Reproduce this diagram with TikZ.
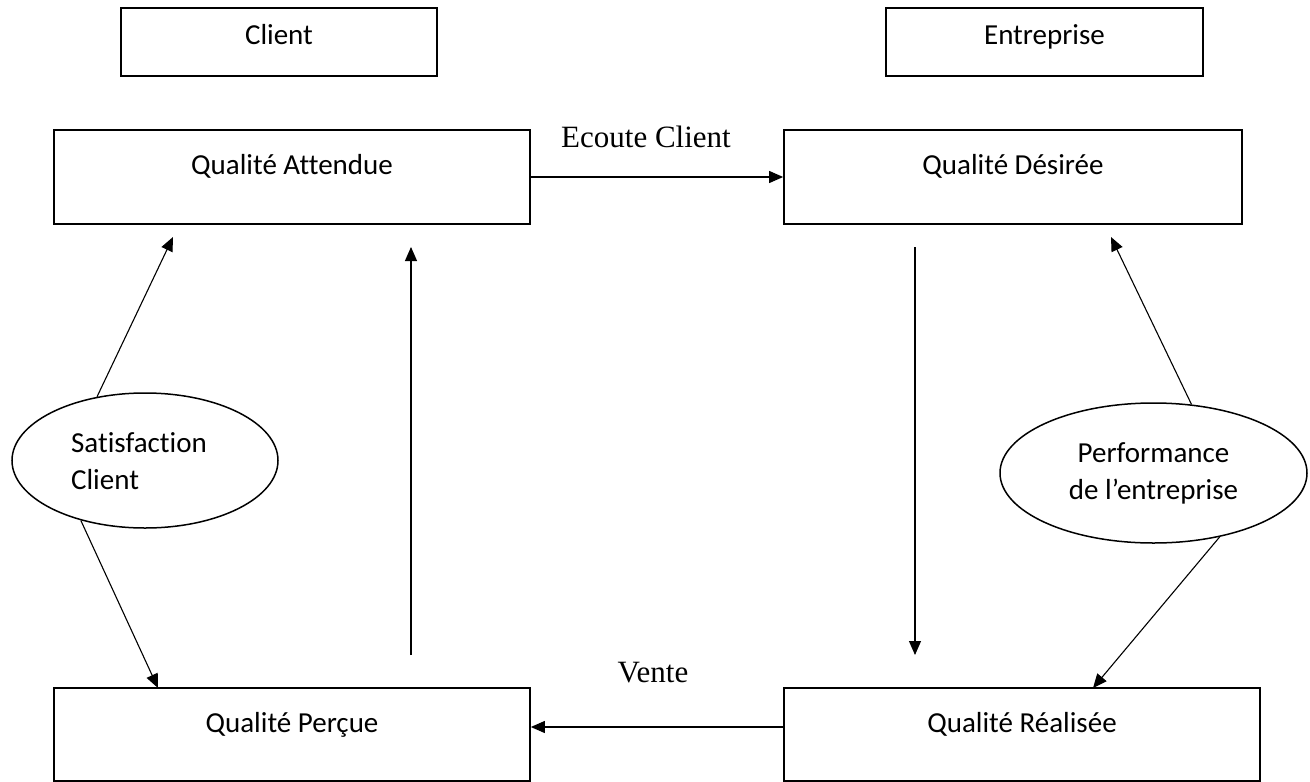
\documentclass[tikz,border=0pt]{standalone}
\usepackage{fontspec}
\setmainfont{Carlito}[Ligatures=NoCommon]
\newfontfamily\timesfont{Liberation Serif}
\usetikzlibrary{shapes.geometric,arrows.meta}

\begin{document}
\begin{tikzpicture}[x=1pt,y=-1pt,
  box/.style={draw, line width=1.7pt, rectangle, inner sep=0pt},
  oval/.style={draw, line width=1.5pt, ellipse, inner sep=0pt},
  arr/.style={line width=1.1pt, -{Triangle[length=14pt,width=12pt]}},
  lab/.style={font=\fontsize{29}{37}\selectfont, text height=20pt, text depth=6pt},
  serif/.style={font=\timesfont\fontsize{31}{37}\selectfont}]
\useasboundingbox (0,0) rectangle (1310,782);

% header boxes
\node[box, minimum width=316pt, minimum height=68pt,
      label={[lab,yshift=5pt]center:Client}] (cli) at (279,42) {};
\node[box, minimum width=317pt, minimum height=68pt,
      label={[lab,yshift=5pt]center:Entreprise}] (ent) at (1044.5,42) {};

% quality boxes
\node[box, minimum width=476pt, minimum height=94pt,
      label={[lab,yshift=10pt]center:Qualité Attendue}] (att) at (292,177) {};
\node[box, minimum width=458pt, minimum height=94pt,
      label={[lab,yshift=10pt]center:Qualité Désirée}] (des) at (1013,177) {};
\node[box, minimum width=476pt, minimum height=93pt,
      label={[lab,yshift=9.5pt]center:Qualité Perçue}] (per) at (292,734.5) {};
\node[box, minimum width=476pt, minimum height=93pt,
      label={[lab,yshift=9.5pt]center:Qualité Réalisée}] (rea) at (1022,734.5) {};

% ellipses
\node[oval, minimum width=266pt, minimum height=135pt,
      label={[font=\fontsize{29}{37}\selectfont,align=left,xshift=-6pt,yshift=-1pt]center:Satisfaction\\Client}] (sat) at (145,460.5) {};
\node[oval, minimum width=307pt, minimum height=140pt,
      label={[font=\fontsize{29}{37}\selectfont,align=center]center:Performance\\de l’entreprise}] (perf) at (1153.5,473) {};

% arrow labels
\node[serif] (ecoute) at (646,137) {Ecoute Client};
\node[serif] (vente) at (653,673) {Vente};

% free arrow ends
\coordinate (upBot) at (411,655);
\coordinate (upTop) at (411,247);
\coordinate (dnTop) at (915,247);
\coordinate (dnBot) at (915,655);
\coordinate (satTip) at (173,237);
\coordinate (perTip) at (158,688);
\coordinate (desTip) at (1111,237);
\coordinate (reaTip) at (1093,688);

% connectors
\draw[arr] (att.east) -- (des.west);
\draw[arr] ([yshift=7.5pt]rea.west) -- ([yshift=7.5pt]per.east);
\draw[arr] (upBot) -- (upTop);
\draw[arr] (dnTop) -- (dnBot);
\draw[arr] (sat.127.7) -- (satTip);
\draw[arr] (sat.223.6) -- (perTip);
\draw[arr] (perf.61.2) -- (desTip);
\draw[arr] (perf.316.1) -- (reaTip);
\end{tikzpicture}
\end{document}
